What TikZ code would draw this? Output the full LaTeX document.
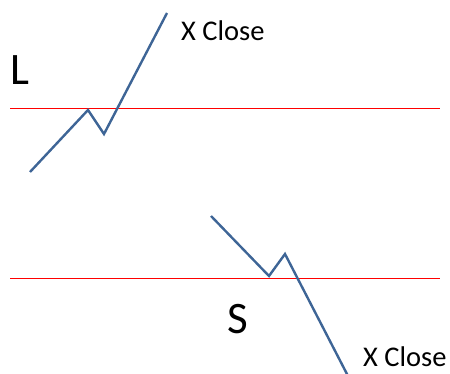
\documentclass[tikz,border=0pt]{standalone}
\usepackage{fontspec}
\setmainfont{Carlito}
\usepackage{xcolor}
\usepackage{tikz}
\usetikzlibrary{calc, positioning}

\definecolor{trend}{HTML}{3E6596}

\begin{document}
\begin{tikzpicture}[x=1pt, y=-1pt, >=latex]
    \tikzset{
        level/.style={red, line width=0.9pt},
        price/.style={trend, line width=2.4pt, line join=miter},
        lbl/.style={inner sep=0pt, font=\fontsize{28.5}{31}\selectfont}
    }
    \useasboundingbox (0,0) rectangle (450,374);

    % Mức giá
    \coordinate (l1a) at (10,108);
    \coordinate (l1b) at (440,108);
    \coordinate (l2a) at (10,278);
    \coordinate (l2b) at (440,278);
    \draw[level] (l1a) -- (l1b);
    \draw[level] (l2a) -- (l2b);

    % Lệnh Long
    \coordinate (p1) at (30,172);
    \coordinate (p2) at (88,110);
    \coordinate (p3) at (104,134);
    \coordinate (p4) at (167,13);
    \draw[price] (p1) -- (p2) -- (p3) -- (p4);
    \node[lbl, font=\fontsize{45}{48}\selectfont, anchor=base west] (long) at (10,85) {L};
    \node[lbl, anchor=base west] (closeL) at (181,41) {X Close};

    % Lệnh Short
    \coordinate (q1) at (211,216);
    \coordinate (q2) at (269,276);
    \coordinate (q3) at (285,254);
    \coordinate (q4) at (348,376);
    \draw[price] (q1) -- (q2) -- (q3) -- (q4);
    \node[lbl, font=\fontsize{45}{48}\selectfont, anchor=base west] (short) at (227,333) {S};
    \node[lbl, anchor=base west] (closeS) at (363,366) {X Close};
\end{tikzpicture}
\end{document}
